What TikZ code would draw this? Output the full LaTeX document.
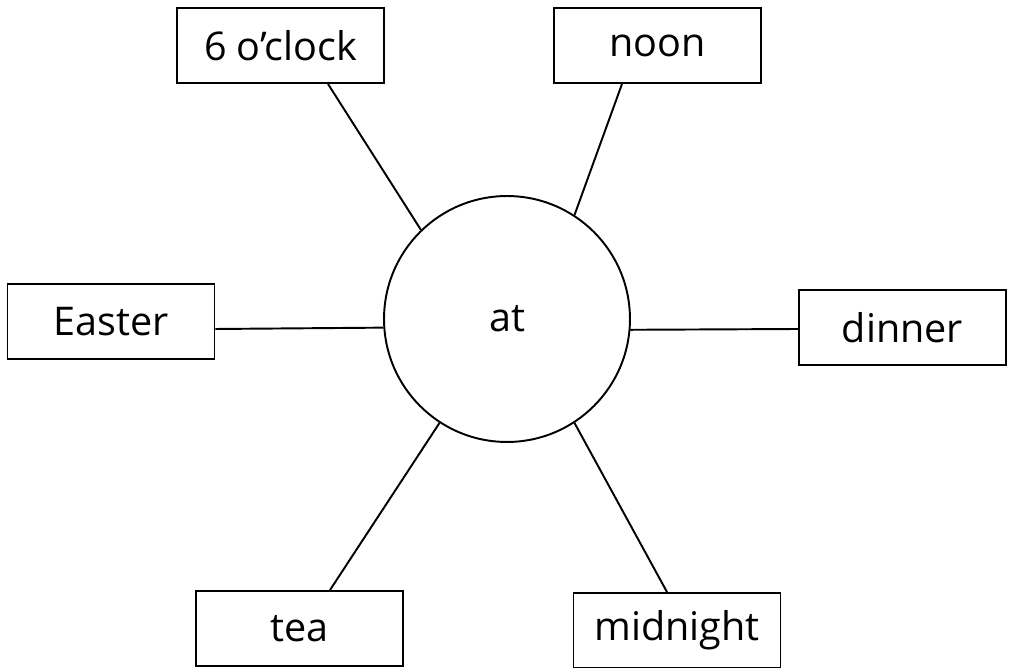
\documentclass[tikz,border=0pt]{standalone}
\usepackage{fontspec}
\setmainfont{Open Sans}

\tikzset{wordbox/.style={draw,line width=1.1pt,rectangle,minimum width=4.14cm,minimum height=1.5cm,inner sep=0pt,font=\fontsize{22.5}{27}\selectfont},
         hub/.style={draw,line width=1.1pt,circle,minimum size=4.92cm,inner sep=0pt,font=\fontsize{22.5}{27}\selectfont},
         spoke/.style={line width=1.1pt}}

\begin{document}
\begin{tikzpicture}[x=0.02cm,y=-0.02cm]
        \useasboundingbox (0,0) rectangle (1009,668);
        \node[hub] (at) at (507,319) {at};
        \node[wordbox] (six) at (280.5,45.5) {6 o’clock};
        \node[wordbox] (noon) at (657.5,45.5) {noon};
        \node[wordbox] (easter) at (111,321.5) {Easter};
        \node[wordbox] (dinner) at (902.5,327.5) {dinner};
        \node[wordbox] (tea) at (299.5,628.5) {tea};
        \node[wordbox] (midnight) at (677,630.5) {midnight};
        \draw[spoke] (six.south -| 328,0) -- (at.134.7);
        \draw[spoke] (noon.south -| 622,0) -- (at.57.6);
        \draw[spoke] (easter.east |- 0,329) -- (at.184.6);
        \draw[spoke] (at.355.4) -- (dinner.west |- 0,329);
        \draw[spoke] (tea.north -| 330,0) -- (at.237.2);
        \draw[spoke] (midnight.north -| 667,0) -- (at.303.2);
    \end{tikzpicture}
\end{document}
